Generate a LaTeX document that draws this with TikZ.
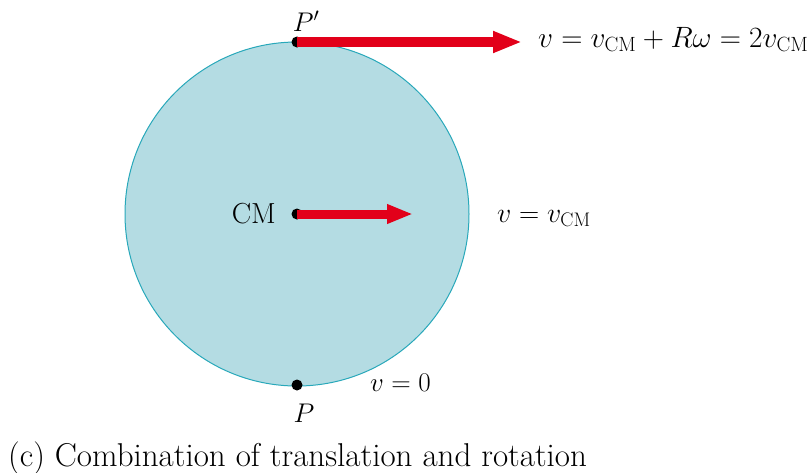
\RequirePackage{fix-cm}
\documentclass[tikz,border=0pt]{standalone}
\usetikzlibrary{arrows.meta}
\definecolor{diskfill}{RGB}{180,220,227}
\definecolor{diskline}{RGB}{40,168,186}
\definecolor{arrowred}{RGB}{226,0,26}
\begin{document}
\begin{tikzpicture}[x=1pt,y=-1pt,
  lbl/.style={inner sep=0pt,font=\fontsize{27}{31}\selectfont},
  dotpt/.style={circle,fill=black,inner sep=0pt,minimum size=11pt},
  velarrow/.style={arrowred,line width=9.5pt}]
\useasboundingbox (0,0) rectangle (811,472);
\node[circle,draw=diskline,fill=diskfill,line width=1pt,minimum size=344pt,inner sep=0pt] (disk) at (297,214) {};
\coordinate (tipT) at (522,42);
\coordinate (tipC) at (413,214);
\node[dotpt] (Pp) at (297,42) {};
\node[dotpt] (cm) at (297,214) {};
\node[dotpt] (P) at (297,385) {};
\draw[velarrow,-{Triangle[length=29pt,width=20pt]}] (Pp.center) -- (tipT);
\draw[velarrow,line width=9pt,-{Triangle[length=26pt,width=18pt]}] (cm.center) -- (tipC);
\node[lbl,anchor=base west,font=\fontsize{29.4}{34}\selectfont] (vtop) at (538,47) {$v = v_{\mathrm{CM}} + R\omega = 2v_{\mathrm{CM}}$};
\node[lbl,anchor=east,font=\fontsize{29}{33}\selectfont] (cmlbl) at (276,214) {CM};
\node[lbl,anchor=base west,font=\fontsize{28}{32}\selectfont] (vcm) at (497,222) {$v = v_{\mathrm{CM}}$};
\node[lbl,anchor=base west] (v0) at (370,391) {$v = 0$};
\node[lbl,anchor=base] (Plbl) at (304,422) {$P$};
\node[lbl,anchor=base] (Pplbl) at (306,31) {$P'$};
\node[lbl,anchor=base west,font=\fontsize{33}{37}\selectfont] (cap) at (8,466) {(c) Combination of translation and rotation};
\end{tikzpicture}
\end{document}
